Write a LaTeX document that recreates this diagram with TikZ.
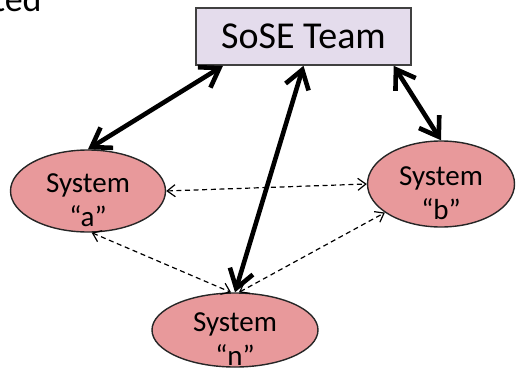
\documentclass[tikz,border=0pt]{standalone}
\usepackage{fontspec}
\setmainfont{Carlito}
\usetikzlibrary{shapes.geometric,arrows.meta}
\definecolor{teamfill}{HTML}{E4DCEC}
\definecolor{sysfill}{HTML}{E8999B}
% two-line label, kept out of the ellipse size and set a bit low
\newcommand{\sysname}[1]{\makebox[0pt]{\smash{\raisebox{-10pt}{\begin{tabular}{@{}c@{}}System\\[2pt]“#1”\end{tabular}}}}}

\begin{document}
\begin{tikzpicture}[x=0.5pt,y=-0.5pt,
    team/.style={draw=black!75,line width=0.8pt,fill=teamfill,minimum width=107.5pt,minimum height=28.5pt,font=\fontsize{19}{19}\selectfont},
    sys/.style={ellipse,draw=black!85,line width=0.7pt,fill=sysfill,font=\fontsize{14.5}{14}\selectfont,inner sep=0pt},
    link/.style={line width=2.3pt,{Straight Barb[length=9pt,width=12pt]}-{Straight Barb[length=9pt,width=12pt]}},
    peer/.style={line width=0.6pt,dash pattern=on 2.5pt off 1.8pt,{Straight Barb[length=4pt,width=6pt]}-{Straight Barb[length=4pt,width=6pt]}}]
  \useasboundingbox (0,0) rectangle (517,379);
  \node[anchor=base east,font=\fontsize{18}{18}\selectfont,inner sep=0pt] (cut) at (42,12) {ted};
  \node[team] (sose) at (303.5,36.5) {SoSE Team};
  \node[sys,minimum width=77.5pt,minimum height=41pt] (sysa) at (88,191) {\sysname{a}};
  \node[sys,minimum width=73.5pt,minimum height=43pt] (sysb) at (441,184) {\sysname{b}};
  \node[sys,minimum width=83pt,minimum height=37pt] (sysn) at (235,330) {\sysname{n}};
  % team to each system
  \path[link]
    (sose.200) edge (sysa.north)
    (sose.342) edge (sysb.north)
    (sose.south) edge (sysn.north);
  % system to system
  \path[peer]
    (sysa.east) edge (sysb.west)
    (sysa.-85) edge (sysn.96)
    (sysn.84) edge (sysb.207);
\end{tikzpicture}
\end{document}
